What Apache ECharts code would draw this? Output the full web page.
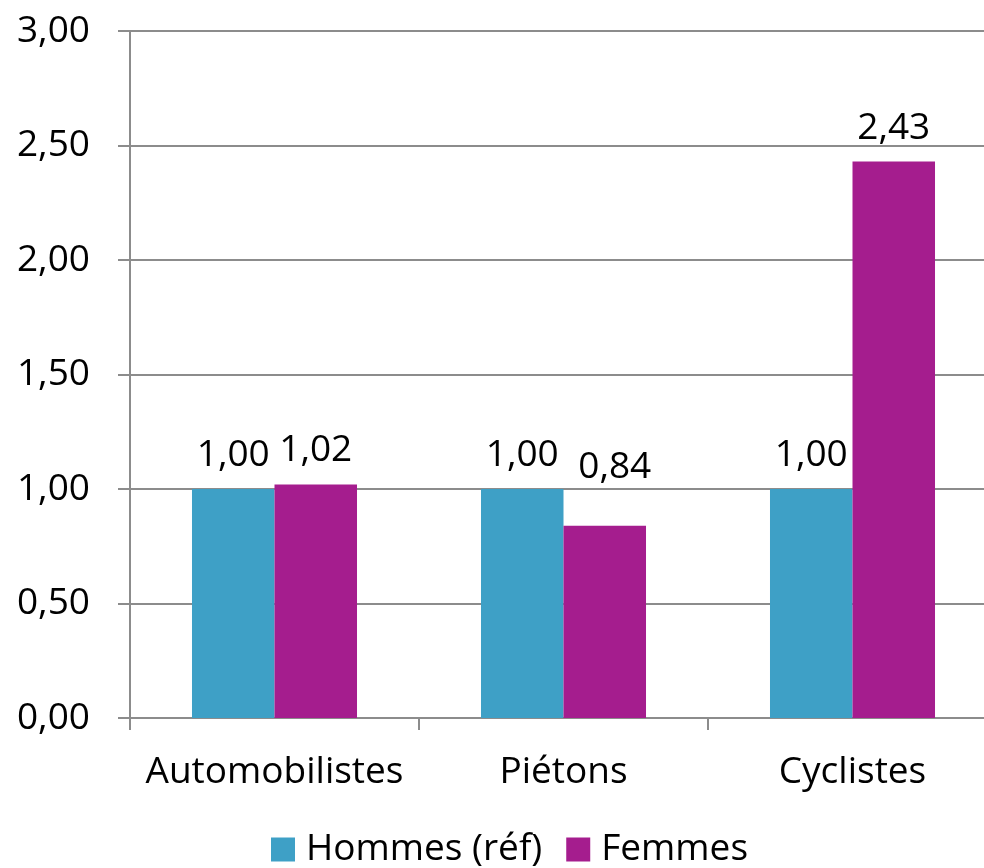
<!DOCTYPE html>
<html>
<head>
<meta charset="utf-8">
<script src="https://cdn.jsdelivr.net/npm/echarts@6/dist/echarts.min.js"></script>
<style>
  html, body { margin: 0; padding: 0; background: #fff; overflow: hidden; }
  #chart { width: 1010px; height: 868px; }
</style>
</head>
<body>
<div id="chart"></div>
<script>
// Risque relatif par mode de déplacement (hommes = référence)
const categories = ['Automobilistes', 'Piétons', 'Cyclistes'];
const hommes = [1.00, 1.00, 1.00];
const femmes = [1.02, 0.84, 2.43];
const seriesNames = ['Hommes (réf)', 'Femmes'];

const FONT = '"Open Sans", sans-serif';
const FS = 37;
const fmt = v => v.toFixed(2).replace('.', ',');

// the short "Piétons / Femmes" bar gets its label lifted a little higher
const femmesData = femmes.map((v, i) => i === 1
  ? { value: v, label: { distance: 40, offset: [10, 0] } }
  : v);

const chart = echarts.init(document.getElementById('chart'), null, { renderer: 'canvas' });

const labelStyle = {
  show: true, position: 'top', distance: 15,
  fontFamily: FONT, fontSize: FS, color: '#000',
  formatter: p => fmt(p.value)
};

chart.setOption({
  animation: false,
  backgroundColor: '#ffffff',
  textStyle: { fontFamily: FONT, color: '#000' },
  legend: {
    data: seriesNames,
    top: 826,
    left: 266,
    itemWidth: 24,
    itemHeight: 24,
    itemGap: 24,
    icon: 'rect',
    textStyle: { fontFamily: FONT, fontSize: FS, color: '#000', padding: [0, 0, 0, 6] }
  },
  grid: { left: 130, top: 31, width: 867, height: 687, containLabel: false },
  xAxis: {
    type: 'category',
    data: categories,
    axisLine: { lineStyle: { color: '#8c8c8c', width: 2 } },
    axisTick: { show: true, interval: 0, length: 12, lineStyle: { color: '#8c8c8c', width: 2 } },
    axisLabel: { interval: 0, fontFamily: FONT, fontSize: FS, color: '#000', margin: 36 }
  },
  yAxis: {
    type: 'value',
    min: 0,
    max: 3,
    interval: 0.5,
    axisLine: { show: true, lineStyle: { color: '#8c8c8c', width: 2 } },
    axisTick: { show: true, length: 12, lineStyle: { color: '#8c8c8c', width: 2 } },
    splitLine: { lineStyle: { color: '#8c8c8c', width: 2 } },
    axisLabel: { fontFamily: FONT, fontSize: FS, color: '#000', margin: 40, formatter: fmt }
  },
  series: [
    {
      name: seriesNames[0],
      type: 'bar',
      data: hommes,
      barGap: '0%',
      barCategoryGap: '42.9%',
      itemStyle: { color: '#3ea0c6' },
      label: labelStyle
    },
    {
      name: seriesNames[1],
      type: 'bar',
      data: femmesData,
      barGap: '0%',
      barCategoryGap: '42.9%',
      itemStyle: { color: '#a51d8e' },
      label: labelStyle
    }
  ]
});
</script>
</body>
</html>
